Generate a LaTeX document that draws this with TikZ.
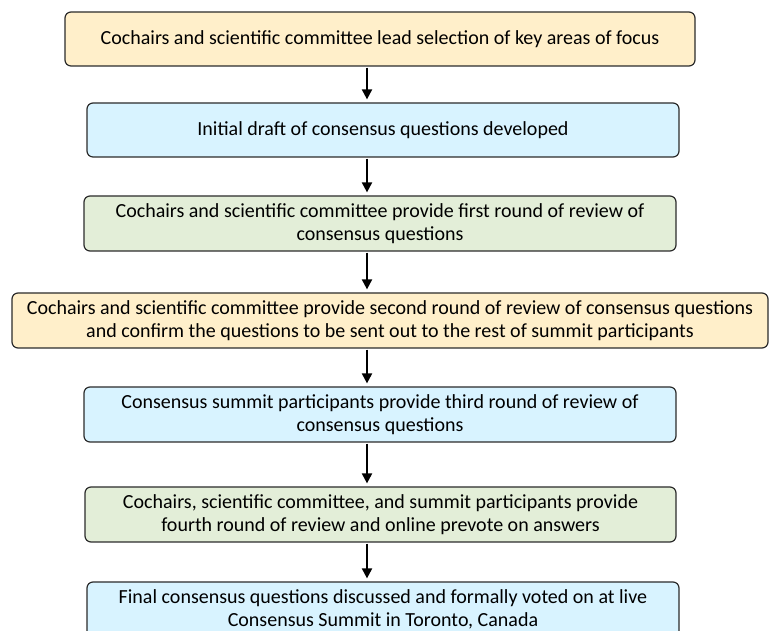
\documentclass[tikz,border=0pt]{standalone}
\usepackage{fontspec}
\setmainfont{Carlito}
\usetikzlibrary{arrows.meta}
\usetikzlibrary{positioning}

\definecolor{boxline}{HTML}{2B2B2B}
\definecolor{boxyellow}{HTML}{FFEFCA}
\definecolor{boxblue}{HTML}{D8F3FF}
\definecolor{boxgreen}{HTML}{E3EED8}

\begin{document}
\begin{tikzpicture}
        [x=1pt, y=1pt,
         every node/.style={draw=boxline, line width=1.2pt, rounded corners=6pt,
                            align=center, minimum height=55pt, inner sep=2pt,
                            font=\fontsize{20}{23}\selectfont},
         flow/.style={line width=2pt, -{Triangle[length=10pt, width=10pt]},
                      shorten <=1pt, shorten >=3pt}]
        \useasboundingbox (0,0) rectangle (771,631);
        \node [fill=boxyellow, minimum width=630pt, minimum height=54pt] (a) at (380,592)
            {Cochairs and scientific committee lead selection of key areas of focus};
        \node [fill=boxblue, minimum width=592pt, minimum height=54pt] (b) at (383,501)
            {Initial draft of consensus questions developed};
        \node [fill=boxgreen, minimum width=592pt] (c) at (380,407.5)
            {Cochairs and scientific committee provide first round of review of\\consensus questions};
        \node [fill=boxyellow, minimum width=756pt] (d) at (390,310.5)
            {Cochairs and scientific committee provide second round of review of consensus questions\\and confirm the questions to be sent out to the rest of summit participants};
        \node [fill=boxblue, minimum width=592pt] (e) at (380,216.5)
            {Consensus summit participants provide third round of review of\\consensus questions};
        \node [fill=boxgreen, minimum width=591pt] (f) at (380.5,116.5)
            {Cochairs, scientific committee, and summit participants provide\\fourth round of review and online prevote on answers};
        \node [fill=boxblue, minimum width=592pt] (g) at (383,21.5)
            {Final consensus questions discussed and formally voted on at live\\Consensus Summit in Toronto, Canada};
        \coordinate (spine) at (367,0);
        \foreach \u/\v in {a/b, b/c, c/d, d/e, e/f, f/g}
            \draw [flow] (\u.south -| spine) -- (\v.north -| spine);
\end{tikzpicture}
\end{document}
